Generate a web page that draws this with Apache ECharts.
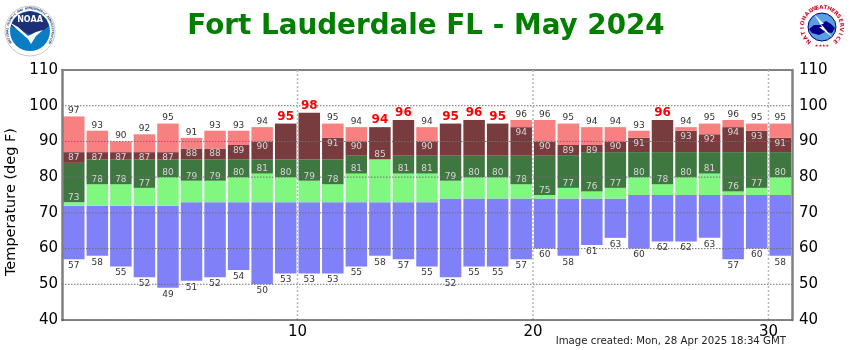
<!DOCTYPE html>
<html>
<head>
<meta charset="utf-8">
<style>html,body{margin:0;padding:0;background:#fff}#chart{width:850px;height:350px}</style>
<script src="https://cdn.jsdelivr.net/npm/echarts@6/dist/echarts.min.js"></script>
</head>
<body>
<div id="chart"></div>
<script>
// May 2024 climate values, index 0 = day 1
var days = [1,2,3,4,5,6,7,8,9,10,11,12,13,14,15,16,17,18,19,20,21,22,23,24,25,26,27,28,29,30,31];
var recordHigh = [97,93,90,92,95,91,93,93,94,95,98,95,94,94,96,94,95,96,95,96,96,95,94,94,93,96,94,95,96,95,95];
var obsHigh = [87,87,87,87,87,88,88,89,90,95,98,91,90,94,96,90,95,96,95,94,90,89,89,90,91,96,93,92,94,93,91];
var normalHigh = [84,85,85,85,85,85,85,85,85,85,85,85,86,85,86,86,86,86,86,86,86,86,87,87,87,87,87,87,87,87,87];
var obsLow = [73,78,78,77,80,79,79,80,81,80,79,78,81,85,81,81,79,80,80,78,75,77,76,77,80,78,80,81,76,77,80];
var normalLow = [72,72,72,72,72,73,73,73,73,73,73,73,73,73,73,73,74,74,74,74,74,74,74,74,75,75,75,75,75,75,75];
var recordLow = [57,58,55,52,49,51,52,54,50,53,53,53,55,58,57,55,52,55,55,57,60,58,61,63,60,62,62,63,57,60,58];
var tempTicks = [50,60,70,80,90,100];
var dayTicks = [10,20,30];

var FONT = '"DejaVu Sans", Verdana, sans-serif';
var BAR_W = 21.5;

function diff(a, b) {
  return a.map(function (v, i) { return v - b[i]; });
}

function segment(name, values, color, label) {
  return {
    name: name,
    type: 'bar',
    stack: 'day',
    barWidth: BAR_W,
    xAxisIndex: 0,
    yAxisIndex: 0,
    silent: true,
    itemStyle: { color: color },
    label: label || { show: false },
    data: values
  };
}

function smallLabel(pos, color, dist, fn) {
  return {
    show: true,
    position: pos,
    distance: dist,
    fontFamily: FONT,
    fontSize: 9,
    color: color,
    formatter: fn
  };
}

// the reference draws its dotted grid over the bars, so the grid is line series here
function gridLine(points, color, width, dash) {
  return {
    type: 'line',
    xAxisIndex: 1,
    yAxisIndex: 0,
    z: 5,
    silent: true,
    symbol: 'none',
    lineStyle: { color: color, width: width, type: dash },
    data: points
  };
}

// record high label goes red and bold when the day tied it
var pinkData = diff(recordHigh, obsHigh).map(function (v, i) {
  if (recordHigh[i] === obsHigh[i]) {
    return { value: v, label: { color: '#ff0000', fontWeight: 'bold', fontSize: 12, distance: 1 } };
  }
  return v;
});

var series = [
  // invisible base up to the record low
  { name: 'base', type: 'bar', stack: 'day', barWidth: BAR_W, silent: true, itemStyle: { color: 'rgba(0,0,0,0)' }, data: recordLow },
  segment('low', diff(normalLow, recordLow), '#8080f8', smallLabel('bottom', '#333', 2, function (p) { return recordLow[p.dataIndex]; })),
  segment('obsLow', diff(obsLow, normalLow), '#80f880', smallLabel('top', '#d8d8d8', 0, function (p) { return obsLow[p.dataIndex]; })),
  segment('normal', diff(normalHigh, obsLow), '#3e7840'),
  segment('obsHigh', diff(obsHigh, normalHigh), '#783c3e', smallLabel('insideTop', '#d8d8d8', 1, function (p) {
    return obsHigh[p.dataIndex] === recordHigh[p.dataIndex] ? '' : obsHigh[p.dataIndex];
  })),
  segment('record', pinkData, '#f88080', smallLabel('top', '#333', 1, function (p) { return recordHigh[p.dataIndex]; }))
];
tempTicks.forEach(function (t) {
  series.push(gridLine([[0, t], [31, t]], '#707070', 1, [1.5, 1.5]));
});
dayTicks.forEach(function (d) {
  series.push(gridLine([[d, 40], [d, 110]], '#b8b8b8', 1.5, [2, 2]));
});

// rough version of the two agency logos
function ringText(str, cx, cy, r, start, end, color, size) {
  var out = [];
  for (var i = 0; i < str.length; i++) {
    var a = start + (end - start) * i / (str.length - 1);
    out.push({
      type: 'text',
      x: cx + r * Math.sin(a),
      y: cy - r * Math.cos(a),
      rotation: -a,
      silent: true,
      style: { text: str[i], fill: color, font: 'bold ' + size + 'px ' + FONT, align: 'center', verticalAlign: 'middle' }
    });
  }
  return out;
}

var logos = [
  { type: 'circle', shape: { cx: 30, cy: 31, r: 25 }, silent: true, style: { fill: '#fff', stroke: '#9aa0b8', lineWidth: 0.6 } },
  { type: 'circle', shape: { cx: 30, cy: 31, r: 20 }, silent: true, style: { fill: '#0a7cc4' } },
  { type: 'polygon', shape: { points: [[11,26],[14,19],[20,14],[30,11],[40,14],[46,19],[49,26],[44,30],[37,33],[32,36],[28,34],[20,30]] }, silent: true, style: { fill: '#1c2f78' } },
  { type: 'polygon', shape: { points: [[9,22],[18,27],[28,36],[36,32],[43,30],[36,36],[31,44],[28,39],[20,32]] }, silent: true, style: { fill: '#fff' } },
  { type: 'text', x: 30, y: 20, silent: true, style: { text: 'NOAA', fill: '#fff', font: 'bold 8px ' + FONT, align: 'center', verticalAlign: 'middle' } },
  { type: 'circle', shape: { cx: 822, cy: 27, r: 14 }, silent: true, style: { fill: '#5aa0e0', stroke: '#00008b', lineWidth: 1 } },
  { type: 'polygon', shape: { points: [[809,29],[814,25],[820,25],[826,21],[831,24],[835,28],[832,33],[825,32],[819,35],[812,33]] }, silent: true, style: { fill: '#00008b' } },
  { type: 'polygon', shape: { points: [[814,14],[824,24],[821,24],[832,37],[819,27],[822,27]] }, silent: true, style: { fill: '#fff' } },
  { type: 'text', x: 822, y: 46, silent: true, style: { text: '★★★★', fill: '#d01030', font: '4px ' + FONT, align: 'center', verticalAlign: 'middle' } }
].concat(
  ringText('NATIONAL OCEANIC AND ATMOSPHERIC ADMINISTRATION', 30, 31, 22.5, -2.1, 2.1, '#3a4a80', 3),
  ringText('NATIONAL', 822, 27, 19.5, -2.4, -0.6, '#d01030', 5.5),
  ringText('WEATHER', 822, 27, 19.5, -0.45, 0.8, '#d01030', 5.5),
  ringText('SERVICE', 822, 27, 19.5, 1, 2.4, '#d01030', 5.5)
);

var chart = echarts.init(document.getElementById('chart'), null, { renderer: 'canvas' });
chart.setOption({
  animation: false,
  backgroundColor: '#fff',
  title: {
    text: 'Fort Lauderdale FL - May 2024',
    left: 421,
    top: 8,
    textAlign: 'center',
    textStyle: { color: '#007f00', fontFamily: FONT, fontWeight: 'bold', fontSize: 27.8 }
  },
  grid: { left: 62, right: 58, top: 70, bottom: 30, containLabel: false, outerBoundsMode: 'none' },
  xAxis: [
    {
      type: 'category',
      data: days,
      position: 'top',
      axisLine: { lineStyle: { color: '#555', width: 1.5, type: [2, 1] } },
      axisTick: { show: false },
      axisLabel: { show: false },
      splitLine: { show: false }
    },
    {
      type: 'value',
      position: 'bottom',
      min: 0,
      max: 31,
      interval: 10,
      z: 6,
      axisLine: { lineStyle: { color: '#555', width: 1.5, type: [2, 1] } },
      axisTick: { show: false },
      axisLabel: { color: '#000', fontFamily: FONT, fontSize: 15, margin: 5, showMinLabel: false, showMaxLabel: false },
      splitLine: { show: false }
    }
  ],
  yAxis: [
    {
      type: 'value',
      min: 40,
      max: 110,
      interval: 10,
      z: 6,
      name: 'Temperature (deg F)',
      nameLocation: 'middle',
      nameGap: 35,
      nameTextStyle: { color: '#000', fontFamily: FONT, fontSize: 14.5, padding: [0, 14, 0, 0] },
      axisLine: { show: true, lineStyle: { color: '#808080', width: 2.5 } },
      axisTick: { show: false },
      axisLabel: { color: '#000', fontFamily: FONT, fontSize: 15, margin: 4, padding: [3, 0, 0, 0] },
      splitLine: { show: false }
    },
    {
      type: 'value',
      min: 40,
      max: 110,
      interval: 10,
      position: 'right',
      z: 6,
      axisLine: { show: true, lineStyle: { color: '#808080', width: 2.5 } },
      axisTick: { show: false },
      axisLabel: { color: '#000', fontFamily: FONT, fontSize: 15, margin: 7, padding: [3, 0, 0, 0] },
      splitLine: { show: false }
    }
  ],
  series: series,
  graphic: logos.concat([
    { type: 'text', x: 786, y: 341, silent: true, style: { text: 'Image created: Mon, 28 Apr 2025 18:34 GMT', fill: '#222', font: '10.2px ' + FONT, align: 'right', verticalAlign: 'middle' } }
  ])
});
</script>
</body>
</html>
